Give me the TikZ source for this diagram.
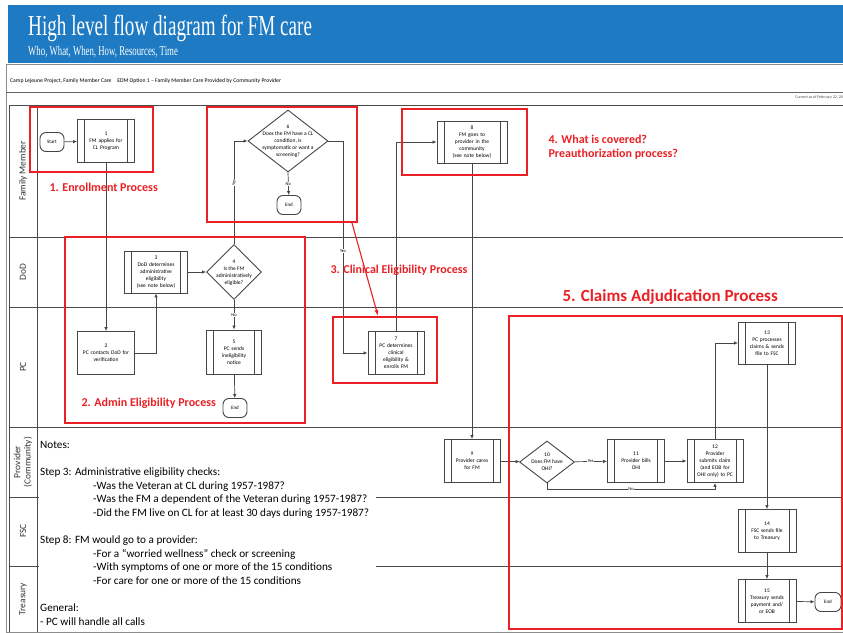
\documentclass[tikz,border=0pt]{standalone}
\usepackage{fontspec}
\setmainfont{Carlito}
\newfontfamily\titlefont{Liberation Serif}
\usetikzlibrary{shapes.geometric,arrows.meta}

\definecolor{hdrblue}{RGB}{30,122,194}
\definecolor{procred}{RGB}{234,32,36}
\definecolor{boxgray}{RGB}{70,70,70}

\tikzset{
  proc/.style={draw=boxgray, line width=0.9pt, fill=white, minimum width=57, minimum height=43,
    align=center, inner sep=0.5pt, text width=45, font=\fontsize{5.5}{7}\selectfont},
  barproc/.style={proc, path picture={
    \draw[boxgray, line width=0.6pt]
      ([xshift=7pt]path picture bounding box.north west) -- ([xshift=7pt]path picture bounding box.south west)
      ([xshift=-7pt]path picture bounding box.north east) -- ([xshift=-7pt]path picture bounding box.south east);}},
  decision/.style={diamond, draw=boxgray, line width=0.9pt, fill=white, inner sep=0pt},
  dtext/.style={align=center, inner sep=0pt, font=\fontsize{5.5}{7}\selectfont},
  term/.style={draw=boxgray, line width=0.9pt, fill=white, rounded corners=6pt,
    minimum width=24, minimum height=19, inner sep=1pt, font=\fontsize{5}{6}\selectfont},
  arr/.style={draw=boxgray, line width=0.7pt, -{Latex[length=4pt,width=3.5pt]}},
  lbl/.style={fill=white, inner sep=0.6pt, font=\fontsize{4.5}{5}\selectfont},
  lane/.style={draw=black!70, line width=0.8pt},
  lanelbl/.style={rotate=90, align=center, text=black!80, font=\fontsize{9.4}{10.4}\selectfont},
  redbox/.style={draw=procred, line width=2pt, inner sep=0pt},
  redlbl/.style={anchor=west, align=left, text=procred, font=\bfseries\fontsize{12}{14}\selectfont}
}

\begin{document}
\begin{tikzpicture}[x=1pt, y=-1pt]
  \useasboundingbox (0,0) rectangle (843,632);
  \fill[white] (0,0) rectangle (843,632);

  % header
  \fill[hdrblue] (8,5) rectangle (843,63);
  \node[anchor=base west, inner sep=0pt, text=white] (title) at (28,35)
    {\scalebox{0.66}[1]{\titlefont\fontsize{29}{29}\selectfont High level flow diagram for FM care}};
  \node[anchor=base west, inner sep=0pt, text=white] (subtitle) at (28,55)
    {\scalebox{0.65}[1]{\titlefont\fontsize{13.5}{13.5}\selectfont Who, What, When, How, Resources, Time}};
  \draw[black!45, line width=0.6pt] (6,64) rectangle (843,632);
  \node[anchor=base west, inner sep=0pt, font=\fontsize{5.7}{6}\selectfont] (project) at (10,82)
    {Camp Lejeune Project, Family Member Care\quad EDM Option 1 -- Family Member Care Provided by Community Provider};
  \draw[black!60, line width=0.6pt] (6,92) -- (843,92);
  \node[anchor=base east, inner sep=0pt, font=\fontsize{4}{4.5}\selectfont, text=black!70] (asof) at (843,98)
    {Current as of February 22, 20};

  % lanes
  \foreach \y in {105,237,307,427,497,566}
    \draw[lane] (9,\y) -- (843,\y);
  \draw[lane] (9,105) -- (9,632) (37,105) -- (37,632);
  \node[lanelbl] (fmlane) at (23,171) {Family Member};
  \node[lanelbl] (dodlane) at (23,272) {DoD};
  \node[lanelbl] (pclane) at (23,367) {PC};
  \node[lanelbl] (provlane) at (23,462) {Provider\\(Community)};
  \node[lanelbl] (fsclane) at (23,531) {FSC};
  \node[lanelbl] (trlane) at (23,599) {Treasury};

  % notes
  \fill[white] (38.5,428) rectangle (376,631);
  \node[anchor=north west, inner sep=0pt, align=left, font=\fontsize{11.2}{13.6}\selectfont] (notes) at (40,441)
    {Notes:\\ \mbox{}\\
     Step 3: Administrative eligibility checks:\\
     \hspace*{53pt}-Was the Veteran at CL during 1957-1987?\\
     \hspace*{53pt}-Was the FM a dependent of the Veteran during 1957-1987?\\
     \hspace*{53pt}-Did the FM live on CL for at least 30 days during 1957-1987?\\ \mbox{}\\
     Step 8: FM would go to a provider:\\
     \hspace*{53pt}-For a “worried wellness” check or screening\\
     \hspace*{53pt}-With symptoms of one or more of the 15 conditions\\
     \hspace*{53pt}-For care for one or more of the 15 conditions\\ \mbox{}\\
     General:\\
     - PC will handle all calls};

  % flow nodes
  \draw
    (52,142) node[term] (start) {Start}
    (106,141) node[barproc] (p1) {1\\FM applies for\\CL Program}
    (106,353) node[proc, text width=52] (p2) {2\\PC contacts DoD for\\verification}
    (156,272) node[barproc, minimum width=63, minimum height=42] (p3) {3\\DoD determines\\administrative\\eligibility\\(see note below)}
    (234,272) node[decision, minimum width=55, minimum height=55] (d4) {}
    (234,273) node[dtext] (d4txt) {4\\Is the FM\\administratively\\eligible?}
    (234,352) node[barproc, minimum width=55, minimum height=44] (p5) {5\\PC sends\\ineligibility\\notice}
    (235,408) node[term] (end2) {End}
    (288,141) node[decision, minimum width=80, minimum height=62] (d6) {}
    (288,141) node[dtext] (d6txt) {6\\Does the FM have a CL\\condition, is\\symptomatic or want a\\screening?}
    (289,205) node[term] (end1) {End}
    (396,353) node[barproc, minimum width=56] (p7) {7\\PC determines\\clinical\\eligibility \&\\enrolls FM}
    (472,142) node[barproc, minimum width=70, minimum height=42] (p8) {8\\FM goes to\\provider in the\\community\\(see note below)}
    (472,461) node[barproc, minimum width=56] (p9) {9\\Provider cares\\for FM}
    (547,462) node[decision, minimum width=55, minimum height=42] (d10) {}
    (547,462) node[dtext] (d10txt) {10\\Does FM have\\OHI?}
    (636,461) node[barproc] (p11) {11\\Provider bills\\OHI}
    (715,461) node[barproc, minimum width=56] (p12) {12\\Provider\\submits claim\\(and EOB for\\OHI only) to PC}
    (767,343) node[barproc, minimum height=42] (p13) {13\\PC processes\\claims \& sends\\file to FSC}
    (767,531) node[barproc, minimum width=58] (p14) {14\\FSC sends file\\to Treasury}
    (767,601) node[barproc, minimum width=58] (p15) {15\\Treasury sends\\payment and/\\or EOB}
    (828,602) node[term, minimum width=26] (end3) {End};

  \coordinate (yes6) at (343,141);
  \coordinate (no10) at (547,489);
  \begin{scope}[arr]
    \draw (start) to (p1);
    \draw (p1) to (p2);
    \draw (p2.east) -| (p3.south);
    \draw (p3) to (d4);
    \draw (d4.north) |- node[lbl, pos=0.3, rotate=90] {Yes} (d6.west);
    \draw (d6.south) -- node[lbl] {No} (end1);
    \draw (d6.east) -- (yes6) |- node[lbl, pos=0.26] {Yes} (p7.west);
    \draw (d4.south) -- node[lbl] {No} (p5);
    \draw (p5) to (end2);
    \draw (p7.north) |- (p8.west);
    \draw (p8) to (p9);
    \draw (p9) to (d10);
    \draw (d10) -- node[lbl] {Yes} (p11);
    \draw (p11) to (p12);
    \draw (d10.south) -- (no10) -| node[lbl, pos=0.25] {No} (p12.south);
    \draw (p12.north) |- (p13.west);
    \draw (p13) to (p14);
    \draw (p14) to (p15);
    \draw (p15) to (end3);
  \end{scope}

  % process groups
  \node[redbox, minimum width=123, minimum height=65] (enroll) at (91.5,139.5) {};
  \node[redbox, minimum width=240, minimum height=186] (admin) at (185,330) {};
  \node[redbox, minimum width=150, minimum height=115] (clinA) at (282,164.5) {};
  \node[redbox, minimum width=104, minimum height=66] (clinB) at (385,350) {};
  \node[redbox, minimum width=125, minimum height=66] (cover) at (464.5,142) {};
  \node[redbox, minimum width=333, minimum height=313] (claims) at (675,472.5) {};
  \draw[procred, line width=1.1pt, -{Latex[length=6pt,width=4pt]}]
    ([xshift=-6pt]clinA.south east) -- ([xshift=-7pt]clinB.north);

  \node[redlbl] (enrolllbl) at (46,187) {1. Enrollment Process};
  \node[redlbl] (adminlbl) at (78,403) {2. Admin Eligibility Process};
  \node[redlbl] (cliniclbl) at (327,270) {3. Clinical Eligibility Process};
  \node[redlbl] (coverlbl) at (545,147) {4. What is covered?\\Preauthorization process?};
  \node[redlbl, font=\bfseries\fontsize{17}{19}\selectfont] (claimslbl) at (559,297) {5. Claims Adjudication Process};
\end{tikzpicture}
\end{document}
